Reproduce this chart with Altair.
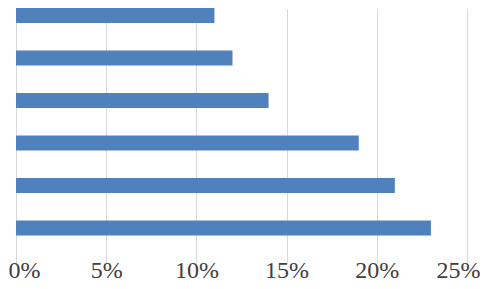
import altair as alt
import pandas as pd

categories = ["A", "B", "C", "D", "E", "F"]
values = [0.11, 0.12, 0.14, 0.19, 0.21, 0.23]
tick_values = [0, 0.05, 0.10, 0.15, 0.20, 0.25]

df = pd.DataFrame({"category": categories, "value": values})

serif = "Liberation Serif, Times New Roman, Times, serif"

chart = alt.Chart(df).mark_bar(color="#4F81BD").encode(
    x=alt.X("value:Q",
            scale=alt.Scale(domain=[0, 0.25], nice=False),
            axis=alt.Axis(format=".0%", values=tick_values,
                          title=None, domain=False, ticks=False,
                          grid=True, gridColor="#d9d9d9", gridWidth=1,
                          labelFont=serif, labelFontSize=24,
                          labelColor="#404040", labelPadding=8,
                          labelAlign=alt.ExprRef(expr="datum.value == 0 ? 'left' : (datum.value > 0.24 ? 'right' : 'center')"),
                          labelOffset=alt.ExprRef(expr="datum.value == 0 ? -8 : (datum.value > 0.24 ? 13 : 0)"),
                          labelFlush=False, labelOverlap=False)),
    y=alt.Y("category:N", sort=None,
            scale=alt.Scale(range=[-13.75, 241.25], paddingInner=0.647, paddingOuter=0.3235),
            axis=None),
).properties(
    width=451,
    height=242,
    autosize=alt.AutoSizeParams(type="none"),
    padding={"left": 8, "top": 0, "right": 14, "bottom": 31},
).configure_view(stroke=None)

chart.save("out.html", embed_options={"renderer": "svg", "actions": False})
